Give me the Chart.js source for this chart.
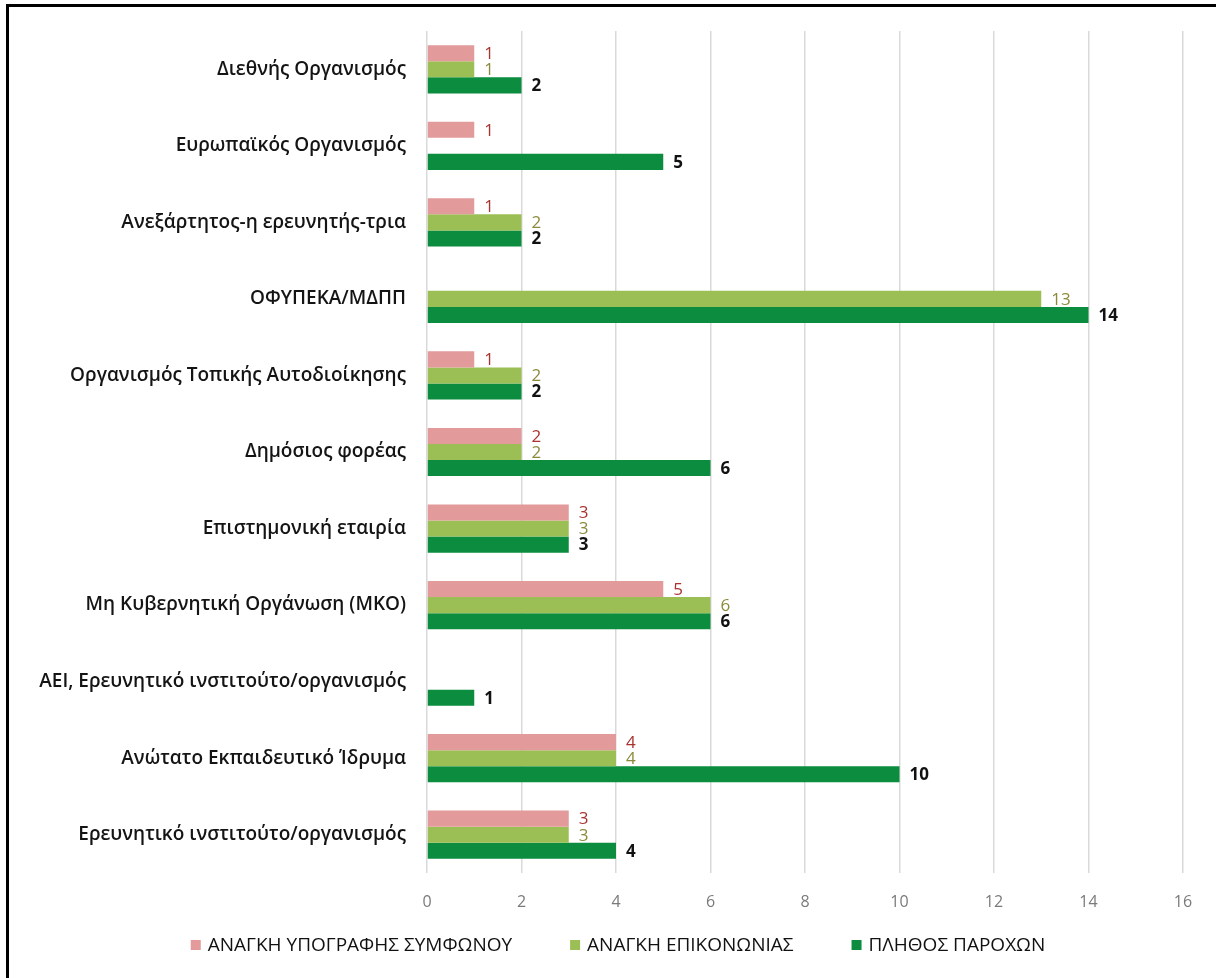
<!DOCTYPE html>
<html>
<head>
<meta charset="utf-8">
<script src="https://cdn.jsdelivr.net/npm/chart.js@4/dist/chart.umd.min.js"></script>
<style>
html,body{margin:0;padding:0;background:#fff;overflow:hidden;width:1216px;height:978px;}
#wrap{position:absolute;left:0;top:0;width:1216px;height:978px;}
#frame{position:absolute;left:6px;top:4px;width:1300px;height:1100px;border:3px solid #000;box-sizing:border-box;pointer-events:none;}
</style>
</head>
<body>
<div id="wrap"><canvas id="c" width="1216" height="978"></canvas></div>
<div id="frame"></div>
<script>
const categories = [
  'Διεθνής Οργανισμός',
  'Ευρωπαϊκός Οργανισμός',
  'Ανεξάρτητος-η ερευνητής-τρια',
  'ΟΦΥΠΕΚΑ/ΜΔΠΠ',
  'Οργανισμός Τοπικής Αυτοδιοίκησης',
  'Δημόσιος φορέας',
  'Επιστημονική εταιρία',
  'Μη Κυβερνητική Οργάνωση (ΜΚΟ)',
  'ΑΕΙ, Ερευνητικό ινστιτούτο/οργανισμός',
  'Ανώτατο Εκπαιδευτικό Ίδρυμα',
  'Ερευνητικό ινστιτούτο/οργανισμός'
];
const seriesNames = ['ΑΝΑΓΚΗ ΥΠΟΓΡΑΦΗΣ ΣΥΜΦΩΝΟΥ', 'ΑΝΑΓΚΗ ΕΠΙΚΟΝΩΝΙΑΣ', 'ΠΛΗΘΟΣ ΠΑΡΟΧΩΝ'];
const signatureNeed = [1, 1, 1, null, 1, 2, 3, 5, null, 4, 3];
const contactNeed   = [1, null, 2, 13, 2, 2, 3, 6, null, 4, 3];
const provisions    = [2, 5, 2, 14, 2, 6, 3, 6, 1, 10, 4];
const xTicks = [0, 2, 4, 6, 8, 10, 12, 14, 16];

const seriesColors = ['#e39a9a', '#9bbf55', '#0b8c3f'];
const labelColors = ['#a8332f', '#8c8a3a', '#111111'];
const labelWeights = ['normal', 'normal', 'bold'];

const valueLabels = {
  id: 'valueLabels',
  afterDatasetsDraw(chart) {
    const ctx = chart.ctx;
    ctx.save();
    chart.data.datasets.forEach((ds, i) => {
      const meta = chart.getDatasetMeta(i);
      meta.data.forEach((bar, j) => {
        const v = ds.data[j];
        if (v === null || v === undefined) return;
        ctx.font = labelWeights[i] + ' 17px "Open Sans", Lato, sans-serif';
        ctx.fillStyle = labelColors[i];
        ctx.textAlign = 'left';
        ctx.textBaseline = 'middle';
        ctx.fillText(String(v), bar.x + 10, bar.y + 1);
      });
    });
    ctx.restore();
  }
};

const customLegend = {
  id: 'customLegend',
  afterDraw(chart) {
    const ctx = chart.ctx;
    ctx.save();
    ctx.font = '19px "Open Sans", Lato, sans-serif';
    ctx.textBaseline = 'middle';
    ctx.textAlign = 'left';
    const box = 10, gapText = 7, gapItem = 58, y = 945;
    const widths = chart.data.datasets.map(ds => box + gapText + ctx.measureText(ds.label).width);
    const total = widths.reduce((a, b) => a + b, 0) + gapItem * (widths.length - 1);
    let x = 618 - total / 2;
    chart.data.datasets.forEach((ds, i) => {
      ctx.fillStyle = ds.backgroundColor;
      ctx.fillRect(x, y - box / 2, box, box);
      ctx.fillStyle = '#111111';
      ctx.fillText(ds.label, x + box + gapText, y + 1);
      x += widths[i] + gapItem;
    });
    ctx.restore();
  }
};

new Chart(document.getElementById('c'), {
  type: 'bar',
  data: {
    labels: categories,
    datasets: [
      { label: seriesNames[0], data: signatureNeed, backgroundColor: seriesColors[0] },
      { label: seriesNames[1], data: contactNeed, backgroundColor: seriesColors[1] },
      { label: seriesNames[2], data: provisions, backgroundColor: seriesColors[2] }
    ]
  },
  options: {
    indexAxis: 'y',
    responsive: false,
    animation: false,
    devicePixelRatio: 1,
    layout: { padding: { top: 31, right: 33, left: 0, bottom: 62 } },
    datasets: { bar: { barPercentage: 1.0, categoryPercentage: 0.63 } },
    scales: {
      x: {
        min: 0, max: 16,
        afterBuildTicks(axis) { axis.ticks = xTicks.map(v => ({ value: v })); },
        afterFit(axis) { axis.height = 43; },
        grid: { color: '#d9d9d9', lineWidth: 1.5, drawTicks: false },
        border: { display: false },
        ticks: { color: '#7a7a7a', padding: 20, font: { size: 16, family: '"Open Sans", sans-serif' } }
      },
      y: {
        afterFit(axis) { axis.width = 427; },
        grid: { display: false },
        border: { display: false },
        ticks: { color: '#141414', padding: 13, font: { size: 19, weight: '600', family: '"Open Sans", Lato, sans-serif' } }
      }
    },
    plugins: {
      tooltip: { enabled: false },
      legend: { display: false }
    }
  },
  plugins: [valueLabels, customLegend]
});
</script>
</body>
</html>
